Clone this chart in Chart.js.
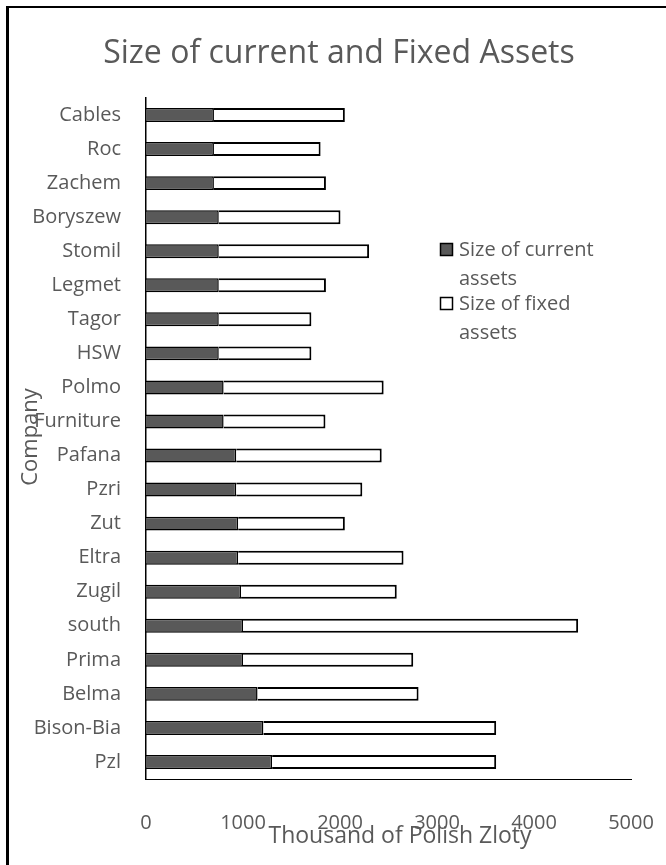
<!DOCTYPE html>
<html>
<head>
<meta charset="utf-8">
<script src="https://cdn.jsdelivr.net/npm/chart.js@4"></script>
<style>
  html, body { margin: 0; padding: 0; background: #fff; }
  #wrap { position: relative; width: 666px; height: 865px; overflow: hidden; }
  #frame { position: absolute; left: 6px; top: 6px; width: 720px; height: 920px;
           border-left: 3px solid #000; border-top: 2px solid #000; pointer-events: none; }
  canvas { position: absolute; left: 0; top: 0; }
</style>
</head>
<body>
<div id="wrap">
  <canvas id="assetsChart" width="666" height="865"></canvas>
  <div id="frame"></div>
</div>
<script>
// companies, top row first
const companies = ["Cables", "Roc", "Zachem", "Boryszew", "Stomil", "Legmet", "Tagor", "HSW", "Polmo", "Furniture",
  "Pafana", "Pzri", "Zut", "Eltra", "Zugil", "south", "Prima", "Belma", "Bison-Bia", "Pzl"];
const currentAssets = [700, 700, 700, 750, 750, 750, 750, 750, 800, 800,
  930, 930, 950, 950, 980, 1000, 1000, 1150, 1210, 1300];
const fixedAssets = [1350, 1100, 1155, 1255, 1550, 1105, 955, 955, 1650, 1050,
  1500, 1300, 1100, 1705, 1605, 3455, 1755, 1660, 2400, 2310];
const xTicks = [0, 1000, 2000, 3000, 4000, 5000];

const GREY = "#595959";
const FONT = "'Open Sans', sans-serif";

// title, axis titles and the two-line legend, drawn where the original puts them
const overlayText = {
  id: "overlayText",
  afterDraw(chart) {
    const ctx = chart.ctx;
    ctx.save();
    ctx.fillStyle = GREY;
    ctx.textAlign = "center";
    ctx.textBaseline = "alphabetic";
    ctx.font = "32px " + FONT;
    ctx.fillText("Size of current and Fixed Assets", 339, 63);

    ctx.font = "23px " + FONT;
    ctx.fillText("Thousand of Polish Zloty", 400, 843);

    ctx.save();
    ctx.translate(37, 437);
    ctx.rotate(-Math.PI / 2);
    ctx.font = "22px " + FONT;
    ctx.fillText("Company", 0, 0);
    ctx.restore();

    // legend
    const items = [
      { lines: ["Size of current", "assets"], fill: GREY, y: 243 },
      { lines: ["Size of fixed", "assets"], fill: "#fff", y: 297 }
    ];
    ctx.textAlign = "left";
    ctx.font = "20px " + FONT;
    items.forEach(it => {
      ctx.fillStyle = it.fill;
      ctx.strokeStyle = "#000";
      ctx.lineWidth = 1.5;
      ctx.fillRect(440.5, it.y + 0.5, 12, 12);
      ctx.strokeRect(440.5, it.y + 0.5, 12, 12);
      ctx.fillStyle = GREY;
      it.lines.forEach((l, i) => ctx.fillText(l, 459, it.y + 13 + i * 28.5));
    });
    ctx.restore();
  }
};

new Chart(document.getElementById("assetsChart"), {
  type: "bar",
  data: {
    labels: companies,
    datasets: [
      {
        label: "Size of current assets",
        data: currentAssets,
        backgroundColor: GREY,
        borderColor: "#000",
        borderWidth: 1.5,
        barPercentage: 0.41,
        categoryPercentage: 1
      },
      {
        label: "Size of fixed assets",
        data: fixedAssets,
        backgroundColor: "#fff",
        borderColor: "#000",
        borderWidth: 2,
        barPercentage: 0.41,
        categoryPercentage: 1
      }
    ]
  },
  options: {
    indexAxis: "y",
    responsive: false,
    animation: false,
    layout: { padding: { top: 98, right: 35, left: 0, bottom: 0 } },
    scales: {
      x: {
        stacked: true,
        min: 0,
        max: 5000,
        afterBuildTicks: s => { s.ticks = xTicks.map(v => ({ value: v })); },
        afterFit: s => { s.height = 86; s.paddingLeft = 0; s.paddingRight = 0; },
        grid: { display: false },
        border: { display: true, color: "#000", width: 1 },
        ticks: {
          color: GREY,
          font: { family: FONT, size: 20 },
          padding: 24,
          maxRotation: 0,
          callback: v => String(v)
        }
      },
      y: {
        stacked: true,
        afterFit: s => { s.width = 146; s.paddingTop = 0; s.paddingBottom = 0; },
        grid: { display: false },
        border: { display: true, color: "#000", width: 1.5 },
        ticks: { color: GREY, font: { family: FONT, size: 20 }, padding: 17, autoSkip: false }
      }
    },
    plugins: {
      legend: { display: false },
      tooltip: { enabled: false }
    }
  },
  plugins: [overlayText]
});
</script>
</body>
</html>
